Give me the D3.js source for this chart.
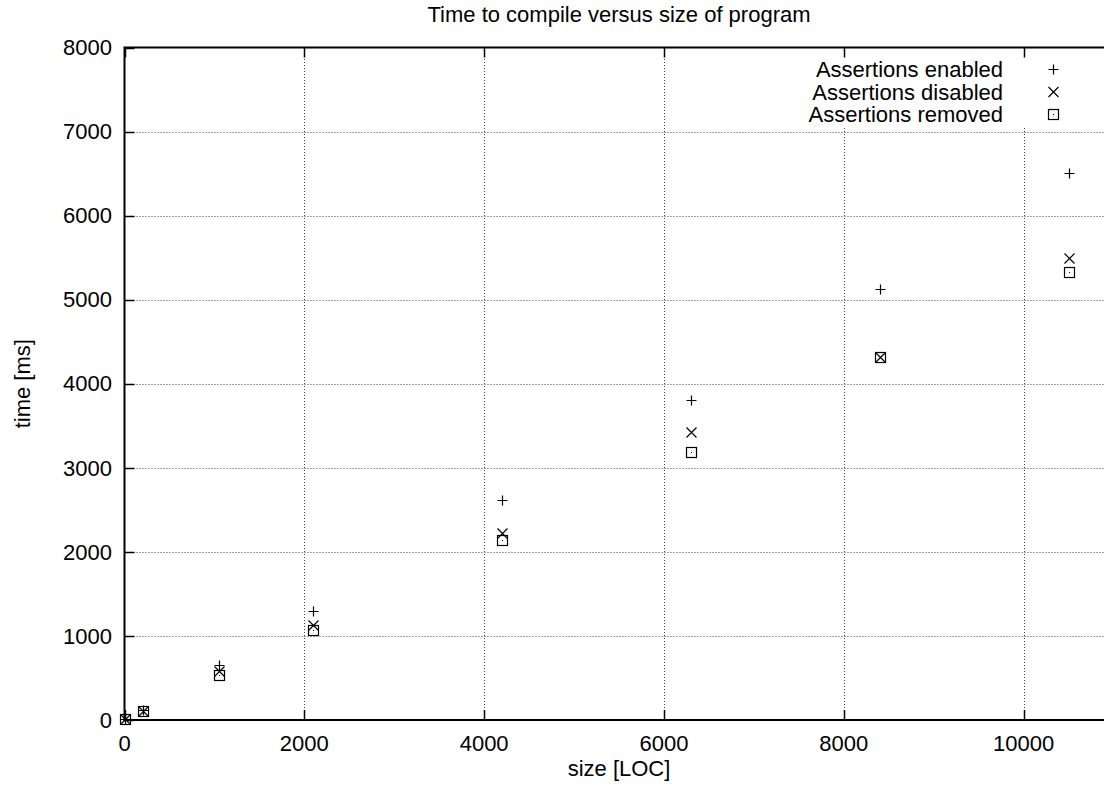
<!DOCTYPE html>
<html>
<head>
<meta charset="utf-8">
<script src="https://cdn.jsdelivr.net/npm/d3@7"></script>
<style>
  body { margin: 0; background: #fff; }
  svg text { font-family: "Liberation Sans", Arial, sans-serif; fill: #000; }
</style>
</head>
<body>
<svg id="chart" width="1104" height="791"></svg>
<script>
  // program sizes in LOC
  var sizes = [0, 210, 1050, 2100, 4200, 6300, 8400, 10500];
  // compile time (ms) per variant
  var enabledTimes = [15, 120, 650, 1300, 2620, 3810, 5130, 6510];
  var disabledTimes = [12, 110, 585, 1135, 2225, 3430, 4320, 5500];
  var removedTimes = [10, 105, 535, 1070, 2140, 3185, 4320, 5330];

  var xTicks = [0, 2000, 4000, 6000, 8000, 10000];
  var yTicks = [0, 1000, 2000, 3000, 4000, 5000, 6000, 7000, 8000];
  var seriesNames = ["Assertions enabled", "Assertions disabled", "Assertions removed"];

  (function () {
    'use strict';
    var svg = d3.select("#chart");
    var fontSize = "22px";

    var plotLeft = 124.5, plotTop = 47.5, plotBottom = 720;
    var x = d3.scaleLinear().domain([0, 11000]).range([plotLeft, plotLeft + 989]);
    var y = d3.scaleLinear().domain([0, 8000]).range([plotBottom, plotTop]);
    var plotRight = x(11000);

    // grid
    var grid = svg.append("g")
      .attr("stroke", "#444")
      .attr("stroke-width", 1)
      .attr("stroke-dasharray", "1,2");
    grid.selectAll(".gx")
      .data(xTicks.filter(function (d) { return d > 0; }))
      .enter().append("line")
      .attr("x1", function (d) { return Math.round(x(d)) + 0.5; })
      .attr("x2", function (d) { return Math.round(x(d)) + 0.5; })
      .attr("y1", plotBottom)
      .attr("y2", plotTop);
    grid.selectAll(".gy")
      .data(yTicks.filter(function (d) { return d > 0 && d < 8000; }))
      .enter().append("line")
      .attr("y1", function (d) { return Math.round(y(d)) + 0.5; })
      .attr("y2", function (d) { return Math.round(y(d)) + 0.5; })
      .attr("x1", plotLeft)
      .attr("x2", plotRight);

    // legend background hides the grid
    svg.append("rect")
      .attr("x", 805)
      .attr("y", 58)
      .attr("width", 320)
      .attr("height", 69)
      .attr("fill", "#fff");

    // border
    svg.append("path")
      .attr("d", "M" + plotRight + "," + plotTop + "H" + plotLeft + "V" + plotBottom + "H" + plotRight)
      .attr("fill", "none")
      .attr("stroke", "#000")
      .attr("stroke-width", 2);

    // ticks (inward, mirrored on top)
    var ticks = svg.append("g").attr("stroke", "#000").attr("stroke-width", 1.5);
    xTicks.forEach(function (d) {
      var px = Math.round(x(d)) + 0.5;
      ticks.append("line").attr("x1", px).attr("x2", px).attr("y1", plotBottom).attr("y2", plotBottom - 10);
      ticks.append("line").attr("x1", px).attr("x2", px).attr("y1", plotTop).attr("y2", plotTop + 10);
    });
    yTicks.forEach(function (d) {
      var py = Math.round(y(d)) + 0.5;
      ticks.append("line").attr("x1", plotLeft).attr("x2", plotLeft + 10).attr("y1", py).attr("y2", py);
    });

    // tick labels
    svg.selectAll(".xl")
      .data(xTicks)
      .enter().append("text")
      .attr("x", function (d) { return x(d); })
      .attr("y", 751)
      .attr("text-anchor", "middle")
      .style("font-size", fontSize)
      .text(function (d) { return d; });
    svg.selectAll(".yl")
      .data(yTicks)
      .enter().append("text")
      .attr("x", 112)
      .attr("y", function (d) { return y(d); })
      .attr("dy", "0.35em")
      .attr("text-anchor", "end")
      .style("font-size", fontSize)
      .text(function (d) { return d; });

    // titles
    svg.append("text")
      .attr("x", (plotLeft + plotRight) / 2)
      .attr("y", 22)
      .attr("text-anchor", "middle")
      .style("font-size", fontSize)
      .text("Time to compile versus size of program");
    svg.append("text")
      .attr("x", (plotLeft + plotRight) / 2)
      .attr("y", 776)
      .attr("text-anchor", "middle")
      .style("font-size", fontSize)
      .text("size [LOC]");
    svg.append("text")
      .attr("transform", "translate(30," + y(4000) + ") rotate(-90)")
      .attr("text-anchor", "middle")
      .style("font-size", fontSize)
      .text("time [ms]");

    // point shapes
    var s = 5;
    function plus(g) {
      g.append("path").attr("d", "M" + (-s) + ",0H" + s + "M0," + (-s) + "V" + s);
    }
    function cross(g) {
      g.append("path").attr("d", "M" + (-s) + "," + (-s) + "L" + s + "," + s + "M" + (-s) + "," + s + "L" + s + "," + (-s));
    }
    function box(g) {
      g.append("rect").attr("x", -s).attr("y", -s).attr("width", 2 * s).attr("height", 2 * s);
      g.append("rect").attr("x", -0.5).attr("y", -0.5).attr("width", 1).attr("height", 1).attr("fill", "#000").attr("stroke", "none");
    }
    var shapes = [plus, cross, box];
    var series = [enabledTimes, disabledTimes, removedTimes];

    var marks = svg.append("g")
      .attr("fill", "none")
      .attr("stroke", "#000")
      .attr("stroke-width", 1.2);

    series.forEach(function (vals, si) {
      marks.selectAll(".p" + si)
        .data(sizes)
        .enter().append("g")
        .attr("class", "p" + si)
        .attr("transform", function (d, i) {
          return "translate(" + (Math.round(x(d)) + 0.5) + "," + (Math.round(y(vals[i])) + 0.5) + ")";
        })
        .each(function () { shapes[si](d3.select(this)); });
    });

    // legend
    var legend = svg.append("g")
      .selectAll(".legend")
      .data(seriesNames)
      .enter().append("g")
      .attr("class", "legend")
      .attr("transform", function (d, i) { return "translate(0," + (69.5 + i * 22.5) + ")"; });
    legend.append("text")
      .attr("x", 1003)
      .attr("dy", "0.35em")
      .attr("text-anchor", "end")
      .style("font-size", fontSize)
      .text(function (d) { return d; });
    legend.append("g")
      .attr("transform", "translate(1053.5,0)")
      .attr("fill", "none")
      .attr("stroke", "#000")
      .attr("stroke-width", 1.2)
      .each(function (d, i) { shapes[i](d3.select(this)); });
  })();
</script>
</body>
</html>
